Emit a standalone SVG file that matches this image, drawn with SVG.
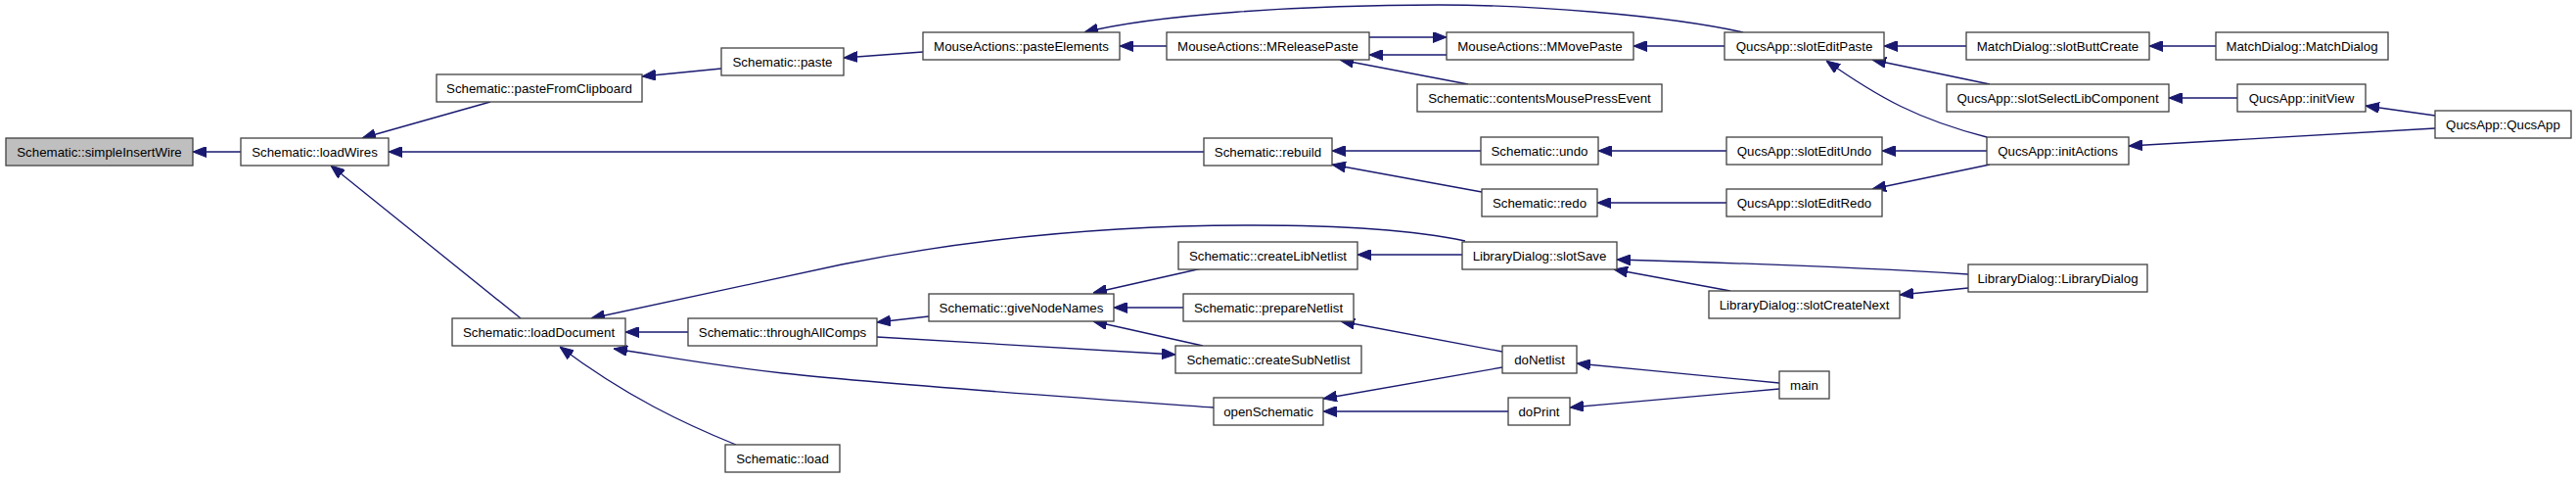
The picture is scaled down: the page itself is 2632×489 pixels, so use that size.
<svg xmlns="http://www.w3.org/2000/svg" width="2632" height="489" viewBox="0 0 2632 489">
<style>
.n rect{fill:#ffffff;stroke:#404040;stroke-width:1.3}
.n.g rect{fill:#bfbfbf}
.n text{font-family:"Liberation Sans",Arial,sans-serif;font-size:13.3px;fill:#000;text-anchor:middle}
#edges path{fill:none;stroke:#191970;stroke-width:1.3;marker-end:url(#ah)}
</style>
<defs>
<marker id="ah" markerUnits="userSpaceOnUse" viewBox="0 0 14 11" refX="14" refY="5.5" markerWidth="14" markerHeight="11" orient="auto">
<path d="M0,0 L14,5.5 L0,11 z" fill="#191970" stroke="#191970" stroke-width="1"/>
</marker>
</defs>
<rect width="2632" height="489" fill="#ffffff"/>
<g id="edges">
<path d="M246,155 L197,155"/>
<path d="M501,104 L370,141"/>
<path d="M1230,155 L397,155"/>
<path d="M532,325 L338,169"/>
<path d="M737,70 L656,78"/>
<path d="M943,53 L862,59"/>
<path d="M1192,47 L1144,47"/>
<path d="M1781,33 C1700,15 1560,5 1470,5 C1330,5 1180,15 1108,33"/>
<path d="M1399,38 L1478,38"/>
<path d="M1478,56 L1399,56"/>
<path d="M1500,86 L1369,61"/>
<path d="M1762,47 L1669,47"/>
<path d="M1513,154 L1361,154"/>
<path d="M1514,196 L1361,168"/>
<path d="M1764,154 L1633,154"/>
<path d="M1764,207 L1632,207"/>
<path d="M2030,154 L1923,154"/>
<path d="M2033,168 L1913,193"/>
<path d="M2030,140 C1960,122 1920,100 1866,62"/>
<path d="M2009,47 L1925,47"/>
<path d="M2033,86 L1913,61"/>
<path d="M2264,47 L2196,47"/>
<path d="M2286,100 L2216,100"/>
<path d="M2488,118 L2417,108"/>
<path d="M2488,131 L2175,149"/>
<path d="M1497,246 C1440,234 1360,230 1280,230 C1100,230 960,250 860,270 L604,325"/>
<path d="M703,339 L639,339"/>
<path d="M1240,416 C1100,406 900,392 800,381 C720,372 680,364 627,356"/>
<path d="M752,454 C700,433 640,405 572,354"/>
<path d="M949,323 L896,329"/>
<path d="M896,344 L1201,362"/>
<path d="M1228,274 L1117,299"/>
<path d="M1209,314 L1138,314"/>
<path d="M1229,353 L1117,328"/>
<path d="M1494,260 L1387,260"/>
<path d="M2011,280 C1900,273 1760,268 1652,265"/>
<path d="M1768,297 L1649,275"/>
<path d="M2011,294 L1941,301"/>
<path d="M1535,359 L1370,328"/>
<path d="M1818,391 C1760,385 1680,378 1611,371"/>
<path d="M1818,397 C1760,402 1680,409 1604,416"/>
<path d="M1535,375 L1352,407"/>
<path d="M1541,420 L1352,420"/>
</g>
<g id="n0" class="n g"><rect x="6" y="141" width="191" height="28"/><text x="101.5" y="159.7">Schematic::simpleInsertWire</text></g>
<g id="n1" class="n"><rect x="246" y="141" width="151" height="28"/><text x="321.5" y="159.7">Schematic::loadWires</text></g>
<g id="n2" class="n"><rect x="446" y="76" width="210" height="28"/><text x="551" y="94.7">Schematic::pasteFromClipboard</text></g>
<g id="n3" class="n"><rect x="737" y="49" width="125" height="28"/><text x="799.5" y="67.7">Schematic::paste</text></g>
<g id="n4" class="n"><rect x="943" y="33" width="201" height="28"/><text x="1043.5" y="51.7">MouseActions::pasteElements</text></g>
<g id="n5" class="n"><rect x="1192" y="33" width="207" height="28"/><text x="1295.5" y="51.7">MouseActions::MReleasePaste</text></g>
<g id="n6" class="n"><rect x="1478" y="33" width="191" height="28"/><text x="1573.5" y="51.7">MouseActions::MMovePaste</text></g>
<g id="n7" class="n"><rect x="1448" y="86" width="250" height="28"/><text x="1573" y="104.7">Schematic::contentsMousePressEvent</text></g>
<g id="n8" class="n"><rect x="1762" y="33" width="163" height="28"/><text x="1843.5" y="51.7">QucsApp::slotEditPaste</text></g>
<g id="n9" class="n"><rect x="2009" y="33" width="187" height="28"/><text x="2102.5" y="51.7">MatchDialog::slotButtCreate</text></g>
<g id="n10" class="n"><rect x="2264" y="33" width="176" height="28"/><text x="2352" y="51.7">MatchDialog::MatchDialog</text></g>
<g id="n11" class="n"><rect x="1989" y="86" width="227" height="28"/><text x="2102.5" y="104.7">QucsApp::slotSelectLibComponent</text></g>
<g id="n12" class="n"><rect x="2286" y="86" width="131" height="28"/><text x="2351.5" y="104.7">QucsApp::initView</text></g>
<g id="n13" class="n"><rect x="2488" y="113" width="139" height="28"/><text x="2557.5" y="131.7">QucsApp::QucsApp</text></g>
<g id="n14" class="n"><rect x="2030" y="140" width="145" height="28"/><text x="2102.5" y="158.7">QucsApp::initActions</text></g>
<g id="n15" class="n"><rect x="1230" y="141" width="131" height="28"/><text x="1295.5" y="159.7">Schematic::rebuild</text></g>
<g id="n16" class="n"><rect x="1513" y="140" width="120" height="28"/><text x="1573" y="158.7">Schematic::undo</text></g>
<g id="n17" class="n"><rect x="1514" y="193" width="118" height="28"/><text x="1573" y="211.7">Schematic::redo</text></g>
<g id="n18" class="n"><rect x="1764" y="140" width="159" height="28"/><text x="1843.5" y="158.7">QucsApp::slotEditUndo</text></g>
<g id="n19" class="n"><rect x="1764" y="193" width="159" height="28"/><text x="1843.5" y="211.7">QucsApp::slotEditRedo</text></g>
<g id="n20" class="n"><rect x="462" y="325" width="177" height="28"/><text x="550.5" y="343.7">Schematic::loadDocument</text></g>
<g id="n21" class="n"><rect x="703" y="325" width="193" height="28"/><text x="799.5" y="343.7">Schematic::throughAllComps</text></g>
<g id="n22" class="n"><rect x="741" y="454" width="117" height="28"/><text x="799.5" y="472.7">Schematic::load</text></g>
<g id="n23" class="n"><rect x="949" y="300" width="189" height="28"/><text x="1043.5" y="318.7">Schematic::giveNodeNames</text></g>
<g id="n24" class="n"><rect x="1204" y="247" width="183" height="28"/><text x="1295.5" y="265.7">Schematic::createLibNetlist</text></g>
<g id="n25" class="n"><rect x="1209" y="300" width="174" height="28"/><text x="1296" y="318.7">Schematic::prepareNetlist</text></g>
<g id="n26" class="n"><rect x="1201" y="353" width="190" height="28"/><text x="1296" y="371.7">Schematic::createSubNetlist</text></g>
<g id="n27" class="n"><rect x="1240" y="406" width="112" height="28"/><text x="1296" y="424.7">openSchematic</text></g>
<g id="n28" class="n"><rect x="1494" y="247" width="158" height="28"/><text x="1573" y="265.7">LibraryDialog::slotSave</text></g>
<g id="n29" class="n"><rect x="2011" y="270" width="183" height="28"/><text x="2102.5" y="288.7">LibraryDialog::LibraryDialog</text></g>
<g id="n30" class="n"><rect x="1746" y="297" width="195" height="28"/><text x="1843.5" y="315.7">LibraryDialog::slotCreateNext</text></g>
<g id="n31" class="n"><rect x="1535" y="353" width="76" height="28"/><text x="1573" y="371.7">doNetlist</text></g>
<g id="n32" class="n"><rect x="1541" y="406" width="63" height="28"/><text x="1572.5" y="424.7">doPrint</text></g>
<g id="n33" class="n"><rect x="1818" y="379" width="51" height="28"/><text x="1843.5" y="397.7">main</text></g>
</svg>
